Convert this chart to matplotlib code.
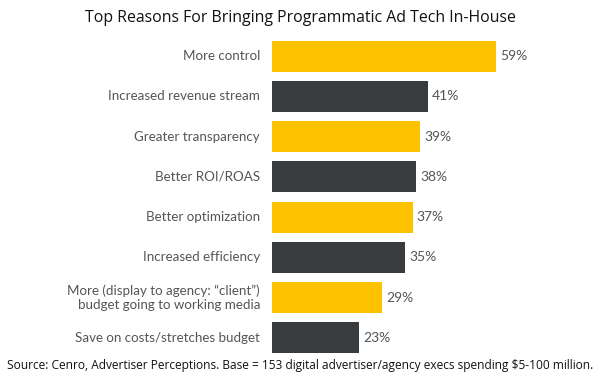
import matplotlib.pyplot as plt

reasons = [
    "More control",
    "Increased revenue stream",
    "Greater transparency",
    "Better ROI/ROAS",
    "Better optimization",
    "Increased efficiency",
    "More (display to agency: \u201cclient\u201d)\nbudget going to working media",
    "Save on costs/stretches budget",
]
shares = [59, 41, 39, 38, 37, 35, 29, 23]

yellow = "#FDC300"
dark = "#383C3F"
colors = [yellow if i % 2 == 0 else dark for i in range(len(shares))]

px_per_pct = 3.8  # bar length in pixels for 1%

fig = plt.figure(figsize=(6, 3.75), dpi=100)
ax = fig.add_axes([272 / 600, 1 - 358 / 375, 300 / 600, 322 / 375])

ypos = list(range(len(shares)))
ax.barh(ypos, shares, color=colors, height=0.77)

for y, v, lab in zip(ypos, shares, reasons):
    ax.text(v + 4 / px_per_pct, y, f"{v}%", va="center", ha="left",
            fontsize=10, color="#555555", family="Lato")
    ax.text(-12 / px_per_pct, y, lab, va="center", ha="right",
            fontsize=9.6, color="#555555", family="Lato", linespacing=1.25)

ax.set_xlim(0, 300 / px_per_pct)
ax.set_ylim(len(shares) - 0.5, -0.5)
ax.axis("off")

fig.text(0.5, 1 - 18 / 375, "Top Reasons For Bringing Programmatic Ad Tech In-House",
         ha="center", va="center", fontsize=11.4, family="Open Sans", color="#111111")
fig.text(0.5, 1 - 366 / 375,
         "Source: Cenro, Advertiser Perceptions. Base = 153 digital advertiser/agency execs spending $5-100 million.",
         ha="center", va="center", fontsize=8.6, family="Open Sans", color="#111111")

fig.savefig("out.png", dpi=100)
